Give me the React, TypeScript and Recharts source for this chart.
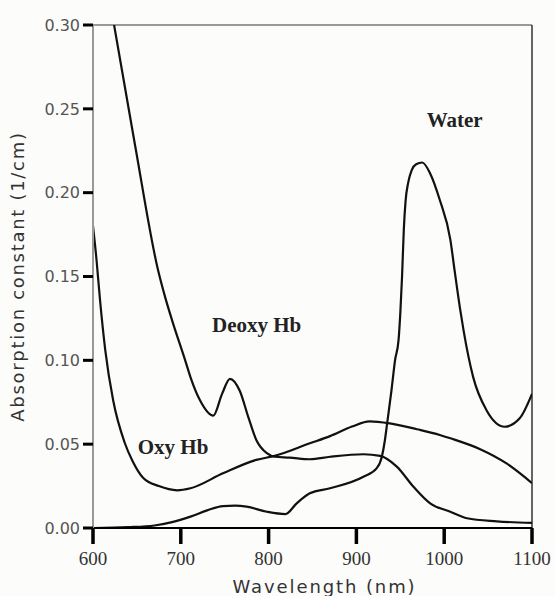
import React from 'react';
import {
  LineChart, Line, XAxis, YAxis, ReferenceLine, ReferenceDot,
} from 'recharts';

// Absorption spectra, wavelength in nm, absorption constant in 1/cm
const deoxyNm = [624, 648, 674, 682, 690, 705, 711, 722, 737, 747, 756, 767, 777, 786, 798, 807, 824, 847, 870, 908, 927, 946, 965, 984, 1007, 1026, 1060, 1100];
const deoxyAbs = [0.3, 0.228, 0.154, 0.138, 0.124, 0.1, 0.09, 0.076, 0.067, 0.08, 0.089, 0.082, 0.066, 0.0525, 0.0446, 0.0425, 0.042, 0.041, 0.0425, 0.044, 0.043, 0.0366, 0.0246, 0.0147, 0.0097, 0.0058, 0.004, 0.003];

const oxyNm = [600, 604, 608, 614, 623, 636, 645, 657, 675, 696, 711, 748, 786, 807, 847, 870, 895, 915, 938, 969, 995, 1007, 1041, 1071, 1100];
const oxyAbs = [0.18, 0.16, 0.136, 0.106, 0.076, 0.051, 0.04, 0.03, 0.025, 0.0225, 0.0237, 0.0326, 0.0406, 0.043, 0.0505, 0.0548, 0.0605, 0.0636, 0.0624, 0.0589, 0.0555, 0.0535, 0.047, 0.0385, 0.0268];

const waterNm = [600, 640, 670, 690, 711, 730, 748, 762, 775, 798, 819, 832, 847, 870, 908, 923, 929, 932.5, 935, 940, 944, 948, 950, 952, 954, 956, 959, 963, 968, 975, 984, 995, 1007, 1012, 1018, 1022, 1033, 1048, 1069, 1086, 1100];
const waterAbs = [0, 0.0005, 0.0015, 0.0035, 0.0068, 0.0105, 0.0131, 0.0133, 0.0127, 0.0097, 0.0083, 0.0147, 0.0207, 0.0237, 0.0306, 0.0356, 0.0425, 0.0525, 0.0624, 0.0823, 0.1, 0.112, 0.128, 0.15, 0.178, 0.195, 0.206, 0.2135, 0.217, 0.218, 0.2115, 0.1956, 0.172, 0.153, 0.131, 0.118, 0.09, 0.0704, 0.0604, 0.0654, 0.08];

const xTicks = [600, 700, 800, 900, 1000, 1100];
const yTicks = [0, 0.05, 0.1, 0.15, 0.2, 0.25, 0.3];

// where each curve name sits (start of text, baseline)
const curveNames = [
  { name: 'Water', nm: 980, abs: 0.239 },
  { name: 'Deoxy Hb', nm: 735.5, abs: 0.117 },
  { name: 'Oxy Hb', nm: 651, abs: 0.0441 },
];

const toRows = (nm: number[], abs: number[]) => nm.map((x, i) => ({ nm: x, abs: abs[i] }));

const series = [
  { key: 'deoxy', data: toRows(deoxyNm, deoxyAbs) },
  { key: 'oxy', data: toRows(oxyNm, oxyAbs) },
  { key: 'water', data: toRows(waterNm, waterAbs) },
];

const SANS = '"DejaVu Sans", Verdana, sans-serif';
const SERIF = '"Liberation Serif", "Times New Roman", serif';

const CurveName = (props: any) => {
  const { viewBox, text } = props;
  return (
    <text x={viewBox.x} y={viewBox.y} fontFamily={SERIF} fontWeight="bold" fontSize={21} fill="#222">
      {text}
    </text>
  );
};

const XTitle = (props: any) => {
  const { viewBox } = props;
  return (
    <text
      x={viewBox.x + viewBox.width / 2 + 12}
      y={viewBox.y + 65}
      textAnchor="middle"
      fontFamily={SANS}
      fontSize={18}
      letterSpacing={1.9}
      fill="#333"
    >
      Wavelength (nm)
    </text>
  );
};

const YTitle = (props: any) => {
  const { viewBox } = props;
  const cy = viewBox.y + viewBox.height / 2;
  return (
    <text
      x={24}
      y={cy}
      transform={`rotate(-90, 24, ${cy})`}
      textAnchor="middle"
      fontFamily={SANS}
      fontSize={18}
      letterSpacing={1.7}
      fill="#333"
    >
      Absorption constant (1/cm)
    </text>
  );
};

export default function App() {
  return (
    <div style={{ position: 'absolute', left: 0, top: 0, width: 555, height: 596, background: '#fcfcfa' }}>
      <LineChart width={555} height={596} margin={{ top: 25, right: 23, bottom: 0, left: 0 }}>
        <XAxis
          type="number"
          dataKey="nm"
          domain={[600, 1100]}
          ticks={xTicks}
          allowDataOverflow
          height={68}
          axisLine={{ stroke: '#000', strokeWidth: 2 }}
          tickLine={{ stroke: '#000', strokeWidth: 3.5 }}
          tickSize={16}
          tickMargin={8}
          tick={{ fill: '#333', fontSize: 19, fontFamily: SERIF }}
          label={<XTitle />}
        />
        <YAxis
          type="number"
          domain={[0, 0.3]}
          ticks={yTicks}
          allowDataOverflow
          width={93}
          axisLine={{ stroke: '#999', strokeWidth: 2 }}
          tickLine={{ stroke: '#000', strokeWidth: 3 }}
          tickSize={10}
          tickMargin={3}
          tickFormatter={(v: number) => v.toFixed(2)}
          tick={{ fill: '#555', fontSize: 16, fontFamily: SANS }}
          label={<YTitle />}
        />
        <ReferenceLine y={0.3} stroke="#999" strokeWidth={2} />
        <ReferenceLine x={1100} stroke="#333" strokeWidth={1.5} />
        {series.map((s) => (
          <Line
            key={s.key}
            data={s.data}
            dataKey="abs"
            type="monotone"
            stroke="#111"
            strokeWidth={2.2}
            dot={false}
            activeDot={false}
            isAnimationActive={false}
          />
        ))}
        {curveNames.map((c) => (
          <ReferenceDot
            key={c.name}
            x={c.nm}
            y={c.abs}
            r={0}
            fill="none"
            stroke="none"
            label={<CurveName text={c.name} />}
          />
        ))}
      </LineChart>
    </div>
  );
}
